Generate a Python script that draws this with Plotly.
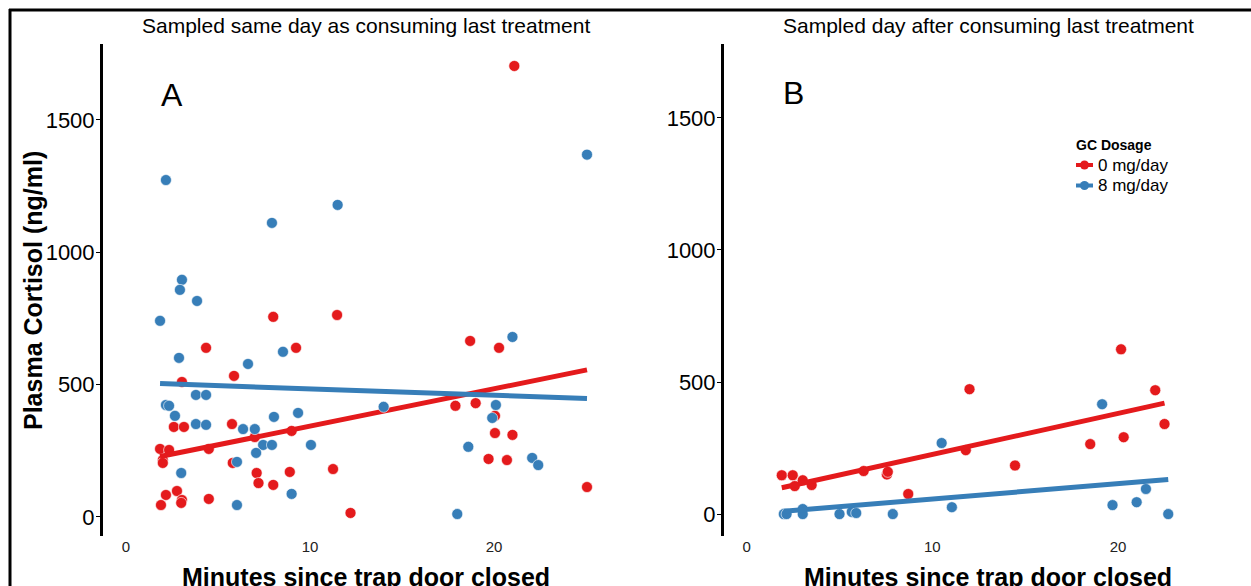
import numpy as np
import plotly.graph_objects as go

W, H = 1251, 586

# Panel A (sampled same day) -- minutes, cortisol
a_red_x = [1.85, 2.34, 2.0, 2.0, 2.17, 1.9, 2.77, 3.04, 3.0, 3.04, 2.6, 3.15, 4.35, 4.5, 4.5,
           5.87, 5.76, 5.8, 7.0, 7.1, 7.2, 8.0, 8.0, 8.9, 9.0, 9.24, 11.25, 11.47, 12.2,
           17.9, 18.7, 19.0, 19.7, 20.05, 20.05, 20.27, 20.7, 21.0, 21.1, 25.05]
a_red_y = [257, 253, 215, 204, 83, 45, 98, 64, 53, 510, 340, 340, 639, 257, 68,
           533, 351, 204, 302, 166, 128, 121, 756, 170, 325, 639, 181, 763, 15,
           420, 665, 430, 219, 382, 317, 639, 215, 310, 1704, 113]
a_blue_x = [2.17, 1.85, 3.04, 2.93, 3.86, 2.88, 8.53, 6.63, 3.8, 4.35, 2.17, 2.34, 2.66,
            3.8, 4.35, 8.04, 9.35, 6.36, 7.0, 7.45, 7.93, 7.07, 10.05, 6.03, 3.0, 9.0,
            6.03, 7.93, 11.5, 14.0, 21.0, 20.1, 19.9, 18.6, 22.07, 22.4, 18.0, 25.05]
a_blue_y = [1273, 741, 896, 858, 816, 601, 624, 578, 461, 461, 423, 420, 382,
            351, 348, 378, 393, 332, 332, 272, 272, 242, 272, 208, 166, 87,
            45, 1111, 1179, 416, 680, 423, 374, 265, 223, 196, 11, 1369]

# Panel B (sampled day after)
b_red_x = [1.89, 2.48, 2.59, 3.02, 3.5, 6.3, 7.55, 7.6, 8.7, 11.8, 12.0, 14.45,
           18.5, 20.16, 20.3, 22.0, 22.5]
b_red_y = [147, 147, 106, 128, 110, 163, 150, 160, 76, 242, 473, 184,
           265, 624, 291, 469, 341]
b_blue_x = [2.0, 2.15, 3.02, 3.02, 5.0, 5.66, 5.9, 7.87, 10.5, 11.05, 19.14, 19.7,
            21.0, 21.5, 22.7]
b_blue_y = [0, 0, 19, 0, 0, 8, 4, 0, 269, 26, 416, 34, 45, 95, 0]

x_ticks = [0, 10, 20]
y_ticks = [0, 500, 1000, 1500]
series_names = ["0 mg/day", "8 mg/day"]
legend_title = "GC Dosage"
RED, BLUE = "#E41A1C", "#377EB8"
FONT = "Liberation Sans, Arial, sans-serif"


def px_x(p):
    return p / W


def px_y(p):
    return 1 - p / H


fig = go.Figure()


def add_panel(xs, ys, color, xa, ya):
    xs = np.array(xs, float)
    ys = np.array(ys, float)
    fig.add_trace(go.Scatter(x=xs, y=ys, mode="markers", xaxis=xa, yaxis=ya,
                             marker=dict(color=color, size=11, line=dict(width=0.6, color="white")),
                             showlegend=False, hoverinfo="x+y"))
    k, b = np.polyfit(xs, ys, 1)
    lx = np.array([xs.min(), xs.max()])
    fig.add_trace(go.Scatter(x=lx, y=k * lx + b, mode="lines", xaxis=xa, yaxis=ya,
                             line=dict(color=color, width=5), showlegend=False, hoverinfo="skip"))


add_panel(a_red_x, a_red_y, RED, "x", "y")
add_panel(a_blue_x, a_blue_y, BLUE, "x", "y")
add_panel(b_red_x, b_red_y, RED, "x2", "y2")
add_panel(b_blue_x, b_blue_y, BLUE, "x2", "y2")

yaxis_common = dict(showline=True, linewidth=3, linecolor="black", ticks="outside",
                    ticklen=4, tickwidth=1.2, tickcolor="black", showgrid=False, zeroline=False,
                    tickvals=y_ticks, tickfont=dict(size=22, color="black", family=FONT),
                    automargin=False, ticklabelstandoff=-3)
xaxis_common = dict(showline=False, ticks="", showgrid=False, zeroline=False,
                    tickvals=x_ticks, tickfont=dict(size=15, color="#222", family=FONT),
                    automargin=False)

fig.update_layout(
    width=W, height=H, margin=dict(l=0, r=0, t=0, b=0),
    paper_bgcolor="white", plot_bgcolor="white",
    font=dict(family=FONT, color="black"),
    xaxis=dict(domain=[px_x(103), px_x(610)], range=[-1.25, 26.3], anchor="y", **xaxis_common),
    yaxis=dict(domain=[px_y(536), px_y(44)], range=[-72, 1787], anchor="x", **yaxis_common),
    xaxis2=dict(domain=[px_x(724), px_x(1231)], range=[-1.22, 26.08], anchor="y2", **xaxis_common),
    yaxis2=dict(domain=[px_y(536), px_y(44)], range=[-83, 1780], anchor="x2", **yaxis_common),
    showlegend=False,
)

ann = [
    dict(text="Sampled same day as consuming last treatment", x=px_x(366), y=px_y(26), size=21, bold=False),
    dict(text="Sampled day after consuming last treatment", x=px_x(988), y=px_y(26), size=21, bold=False),
    dict(text="A", x=px_x(172), y=px_y(95), size=32, bold=False),
    dict(text="B", x=px_x(793), y=px_y(93), size=32, bold=False),
    dict(text="Minutes since trap door closed", x=px_x(366), y=px_y(577), size=25, bold=True),
    dict(text="Minutes since trap door closed", x=px_x(988), y=px_y(577), size=25, bold=True),
]
for a in ann:
    fig.add_annotation(text=("<b>%s</b>" % a["text"]) if a["bold"] else a["text"],
                       x=a["x"], y=a["y"], xref="paper", yref="paper",
                       xanchor="center", yanchor="middle", showarrow=False,
                       font=dict(size=a["size"], color="black", family=FONT))
fig.add_annotation(text="<b>Plasma Cortisol (ng/ml)</b>", x=px_x(33), y=px_y(291),
                   xref="paper", yref="paper", textangle=-90, showarrow=False,
                   xanchor="center", yanchor="middle", font=dict(size=25, color="black", family=FONT))

# legend (drawn manually for exact spacing)
fig.add_annotation(text="<b>%s</b>" % legend_title, x=px_x(1074), y=px_y(145), xref="paper", yref="paper",
                   xanchor="left", yanchor="middle", showarrow=False,
                   font=dict(size=14, color="black", family=FONT))
for i, (name, color) in enumerate(zip(series_names, [RED, BLUE])):
    yc = 165 + 20.5 * i
    fig.add_shape(type="line", xref="paper", yref="paper", x0=px_x(1076), x1=px_x(1093),
                  y0=px_y(yc), y1=px_y(yc), line=dict(color=color, width=4))
    fig.add_shape(type="circle", xref="paper", yref="paper", x0=px_x(1080), x1=px_x(1089),
                  y0=px_y(yc - 4.5), y1=px_y(yc + 4.5), fillcolor=color, line=dict(width=0))
    fig.add_annotation(text=name, x=px_x(1096), y=px_y(yc), xref="paper", yref="paper",
                       xanchor="left", yanchor="middle", showarrow=False,
                       font=dict(size=17, color="black", family=FONT))

# outer frame
fig.add_shape(type="line", xref="paper", yref="paper", x0=px_x(10), x1=px_x(10), y0=px_y(9), y1=px_y(600),
              line=dict(color="black", width=3))
fig.add_shape(type="line", xref="paper", yref="paper", x0=px_x(9), x1=px_x(1260), y0=px_y(10), y1=px_y(10),
              line=dict(color="black", width=3))

fig.write_html("out.html")
